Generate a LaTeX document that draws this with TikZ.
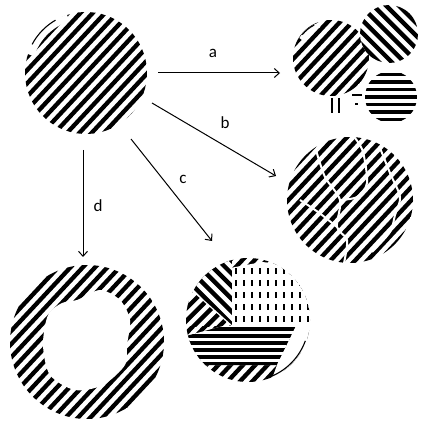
\documentclass[tikz,border=0pt]{standalone}
\usepackage{fontspec}
\setmainfont{Carlito}
\usetikzlibrary{arrows.meta}

\tikzset{
  stripe/.style={line width=4.3pt},
  hstripe/.style={line width=3.8pt},
  vdash/.style={line width=1.6pt},
  crack/.style={white, line width=2pt},
  rim/.style={line width=1.1pt},
  arr/.style={-{Straight Barb[length=5pt,width=9pt]}, line width=1pt},
  lbl/.style={font=\fontsize{17}{20}\selectfont, inner sep=0pt}
}

\begin{document}
\begin{tikzpicture}[x=1pt,y=-1pt]
\useasboundingbox (0,0) rectangle (420,427);

% start circle
\begin{scope}[shift={(86,73)},rotate=47]
  \clip (0,0) circle (61);
  \foreach \k in {-7,...,7}
    \draw[stripe] (-70,\k*9) -- (70,\k*9);
\end{scope}
\draw[white, line width=7pt] (86,73) ++(198:58) arc[start angle=198, end angle=252, radius=58];
\draw[rim] (86,73) ++(208:61) arc[start angle=208, end angle=240, radius=61];

% a: three pieces
\begin{scope}[shift={(331,58)},rotate=47]
  \clip (0,0) circle (38);
  \foreach \k in {-5,...,5}
    \draw[stripe] (-45,\k*9) -- (45,\k*9);
\end{scope}
\draw[white, line width=5pt] (331,58) ++(212:35) arc[start angle=212, end angle=250, radius=35];
\draw[rim] (331,58) ++(219:37) arc[start angle=219, end angle=243, radius=37];
\draw[rim] (331,58) ++(29:36) arc[start angle=29, end angle=45, radius=36];
\begin{scope}[shift={(389,34)},rotate=-45]
  \fill[white] (0,0) circle (29);
  \clip (0,0) circle (29);
  \foreach \k in {-4,...,4}
    \draw[stripe] (-35,\k*9) -- (35,\k*9);
\end{scope}
\begin{scope}
  \clip (391,97) circle (26);
  \foreach \k in {-3,...,3}
    \draw[hstripe] (360,97+\k*7.5) -- (420,97+\k*7.5);
\end{scope}
\draw[line width=2.4pt] (332,98) -- (332,113);
\draw[line width=2.4pt] (339,98) -- (339,113);
\draw[line width=1.8pt] (352,95) -- (362,95);
\draw[line width=1.5pt] (355,104) -- (358,104);

% b: cracked circle
\begin{scope}[shift={(350,200)},rotate=47]
  \clip (0,0) circle (63);
  \foreach \k in {-8,...,8}
    \draw[stripe] (-70,\k*9) -- (70,\k*9);
\end{scope}
\draw[crack] plot[smooth] coordinates {(316,150) (325,177) (340,200) (337,227) (347,240) (344,263)};
\draw[crack] plot[smooth] coordinates {(355,138) (363,152) (367,183) (357,197) (340,200)};
\draw[crack] plot[smooth] coordinates {(380,148) (390,173) (400,197) (395,215) (390,232) (372,252)};
\draw[crack] plot[smooth] coordinates {(300,200) (318,212) (337,227)};

% c: mixed circle
\begin{scope}
  \clip (248,320) circle (62);
  \begin{scope}[shift={(248,320)},rotate=47]
    \foreach \k in {-8,...,8}
      \draw[stripe] (-70,\k*9) -- (70,\k*9);
  \end{scope}
  % dashed part
  \begin{scope}
    \clip (230,268) -- (262,262) -- (300,266) -- (314,288) -- (314,326) -- (230,326) -- cycle;
    \fill[white] (220,250) rectangle (320,330);
    \foreach \x in {236,244,...,308}
      \foreach \y in {268,280,...,316}
        \draw[vdash] (\x,\y) -- (\x,\y+6);
  \end{scope}
  % chevron part
  \begin{scope}
    \clip (184,258) -- (232,258) -- (232,326) -- (184,326) -- cycle;
    \fill[white] (184,258) rectangle (232,326);
    \begin{scope}
      \clip (184,258) -- (232,258) -- (232,325) -- (184,282) -- cycle;
      \begin{scope}[shift={(210,290)},rotate=-45]
        \foreach \k in {-7,...,7}
          \draw[stripe] (-60,\k*9) -- (60,\k*9);
      \end{scope}
    \end{scope}
    \begin{scope}
      \clip (184,284) -- (232,327) -- (184,327) -- cycle;
      \begin{scope}[shift={(210,310)},rotate=45]
        \foreach \k in {-7,...,7}
          \draw[stripe] (-60,\k*9) -- (60,\k*9);
      \end{scope}
    \end{scope}
  \end{scope}
  % horizontal band
  \begin{scope}
    \clip (186,336) -- (223,326) -- (296,326) -- (277,365) -- (186,365) -- cycle;
    \fill[white] (180,320) rectangle (300,370);
    \foreach \y in {329,336,...,364}
      \draw[hstripe] (180,\y) -- (300,\y);
  \end{scope}
  \fill[white] (296,326) -- (316,326) -- (316,390) -- (268,390) -- (277,365) -- cycle;
\end{scope}
\draw[rim] (248,320) ++(20:61) arc[start angle=20, end angle=70, radius=61];

% d: ring
\begin{scope}[shift={(87,342)},rotate=47]
  \clip (0,0) circle (77);
  \foreach \k in {-9,...,9}
    \draw[stripe] (-85,\k*9) -- (85,\k*9);
\end{scope}
\fill[white] plot[smooth cycle] coordinates {(77,300) (100,290) (120,300) (130,320) (127,345) (125,365) (103,385) (75,390) (50,375) (43,345) (48,315) (62,303)};

% arrows
\coordinate (a0) at (158,73);
\coordinate (a1) at (280,73);
\coordinate (b0) at (152,103);
\coordinate (b1) at (276,176);
\coordinate (c0) at (131,139);
\coordinate (c1) at (212,241);
\coordinate (d0) at (83,150);
\coordinate (d1) at (83,257);
\draw[arr] (a0) -- (a1);
\draw[arr] (b0) -- (b1);
\draw[arr] (c0) -- (c1);
\draw[arr] (d0) -- (d1);
\node[lbl] (la) at (213,53) {a};
\node[lbl] (lb) at (225,123) {b};
\node[lbl] (lc) at (183,179) {c};
\node[lbl] (ld) at (98,206) {d};
\end{tikzpicture}
\end{document}
